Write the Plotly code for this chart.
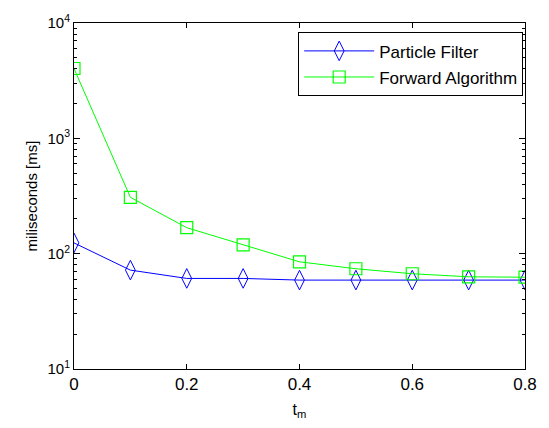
import plotly.graph_objects as go

# t_m values and run times in milliseconds
t_m = [0, 0.1, 0.2, 0.3, 0.4, 0.5, 0.6, 0.7, 0.8]
particle_filter_ms = [124, 72, 61, 61, 59, 59, 59, 59, 59]
forward_algorithm_ms = [4030, 308, 168, 119, 85, 74, 67, 63, 62.5]

x_ticks = [0, 0.2, 0.4, 0.6, 0.8]
x_tick_labels = ["0", "0.2", "0.4", "0.6", "0.8"]
y_major_ticks = [10, 100, 1000, 10000]
y_major_labels = ["10<sup>1</sup>", "10<sup>2</sup>", "10<sup>3</sup>", "10<sup>4</sup>"]
# minor log ticks: 2..9 in each decade
y_minor_ticks = [m * 10 ** k for k in range(1, 4) for m in range(2, 10)]

font_family = "Liberation Sans, Arial, sans-serif"

# all y ticks, labelled only at the decades
y_all_ticks = sorted(y_major_ticks + y_minor_ticks)
y_all_labels = [y_major_labels[y_major_ticks.index(v)] if v in y_major_ticks else ""
                for v in y_all_ticks]

fig = go.Figure()
fig.add_trace(go.Scatter(
    x=t_m, y=particle_filter_ms, name="Particle Filter",
    legendgroup="pf",
    mode="lines+markers",
    line=dict(color="#0000ff", width=1),
    marker=dict(symbol="diamond-tall-open", size=14, color="#0000ff",
                line=dict(width=1, color="#0000ff")),
))
fig.add_trace(go.Scatter(
    x=t_m, y=forward_algorithm_ms, name="Forward Algorithm",
    legendgroup="fa",
    mode="lines+markers",
    line=dict(color="#00ff00", width=1),
    marker=dict(symbol="square-open", size=12, color="#00ff00",
                line=dict(width=1.2, color="#00ff00")),
))
# carrier for the longer decade ticks on the overlay axis
fig.add_trace(go.Scatter(
    x=t_m, y=particle_filter_ms, yaxis="y2", showlegend=False,
    hoverinfo="skip", mode="lines", line=dict(width=0), opacity=0,
))

fig.update_layout(
    width=549, height=428,
    margin=dict(l=74, r=19, t=23, b=59),
    paper_bgcolor="white", plot_bgcolor="white",
    font=dict(family=font_family, size=15, color="black"),
    showlegend=True,
    legend=dict(
        x=0.996, y=0.973, xanchor="right", yanchor="top",
        bgcolor="white", bordercolor="black", borderwidth=1,
        font=dict(family=font_family, size=17, color="black"),
        itemwidth=70, tracegroupgap=1,
    ),
    yaxis2=dict(
        type="log", range=[1, 4], overlaying="y", side="left", anchor="x",
        tickvals=y_major_ticks, showticklabels=False,
        showgrid=False, zeroline=False,
        showline=True, linecolor="black", linewidth=1, mirror="allticks",
        ticks="inside", ticklen=6, tickcolor="black",
    ),
)

fig.update_xaxes(
    range=[0, 0.8], tickvals=x_ticks, ticktext=x_tick_labels,
    tickfont=dict(family=font_family, size=17),
    showgrid=False, zeroline=False,
    showline=True, linecolor="black", linewidth=1, mirror="ticks",
    ticks="inside", ticklen=5, tickcolor="black",
    title=dict(text="t<sub>m</sub>", standoff=10,
               font=dict(family=font_family, size=16)),
)
fig.layout.yaxis.update(
    type="log", range=[1, 4], tickvals=y_all_ticks, ticktext=y_all_labels,
    tickfont=dict(family=font_family, size=15),
    showgrid=False, zeroline=False,
    showline=True, linecolor="black", linewidth=1, mirror="allticks",
    ticks="inside", ticklen=3, tickcolor="black",
    title=dict(text="miliseconds [ms]", standoff=6,
               font=dict(family=font_family, size=15)),
)

fig.write_html("out.html")
